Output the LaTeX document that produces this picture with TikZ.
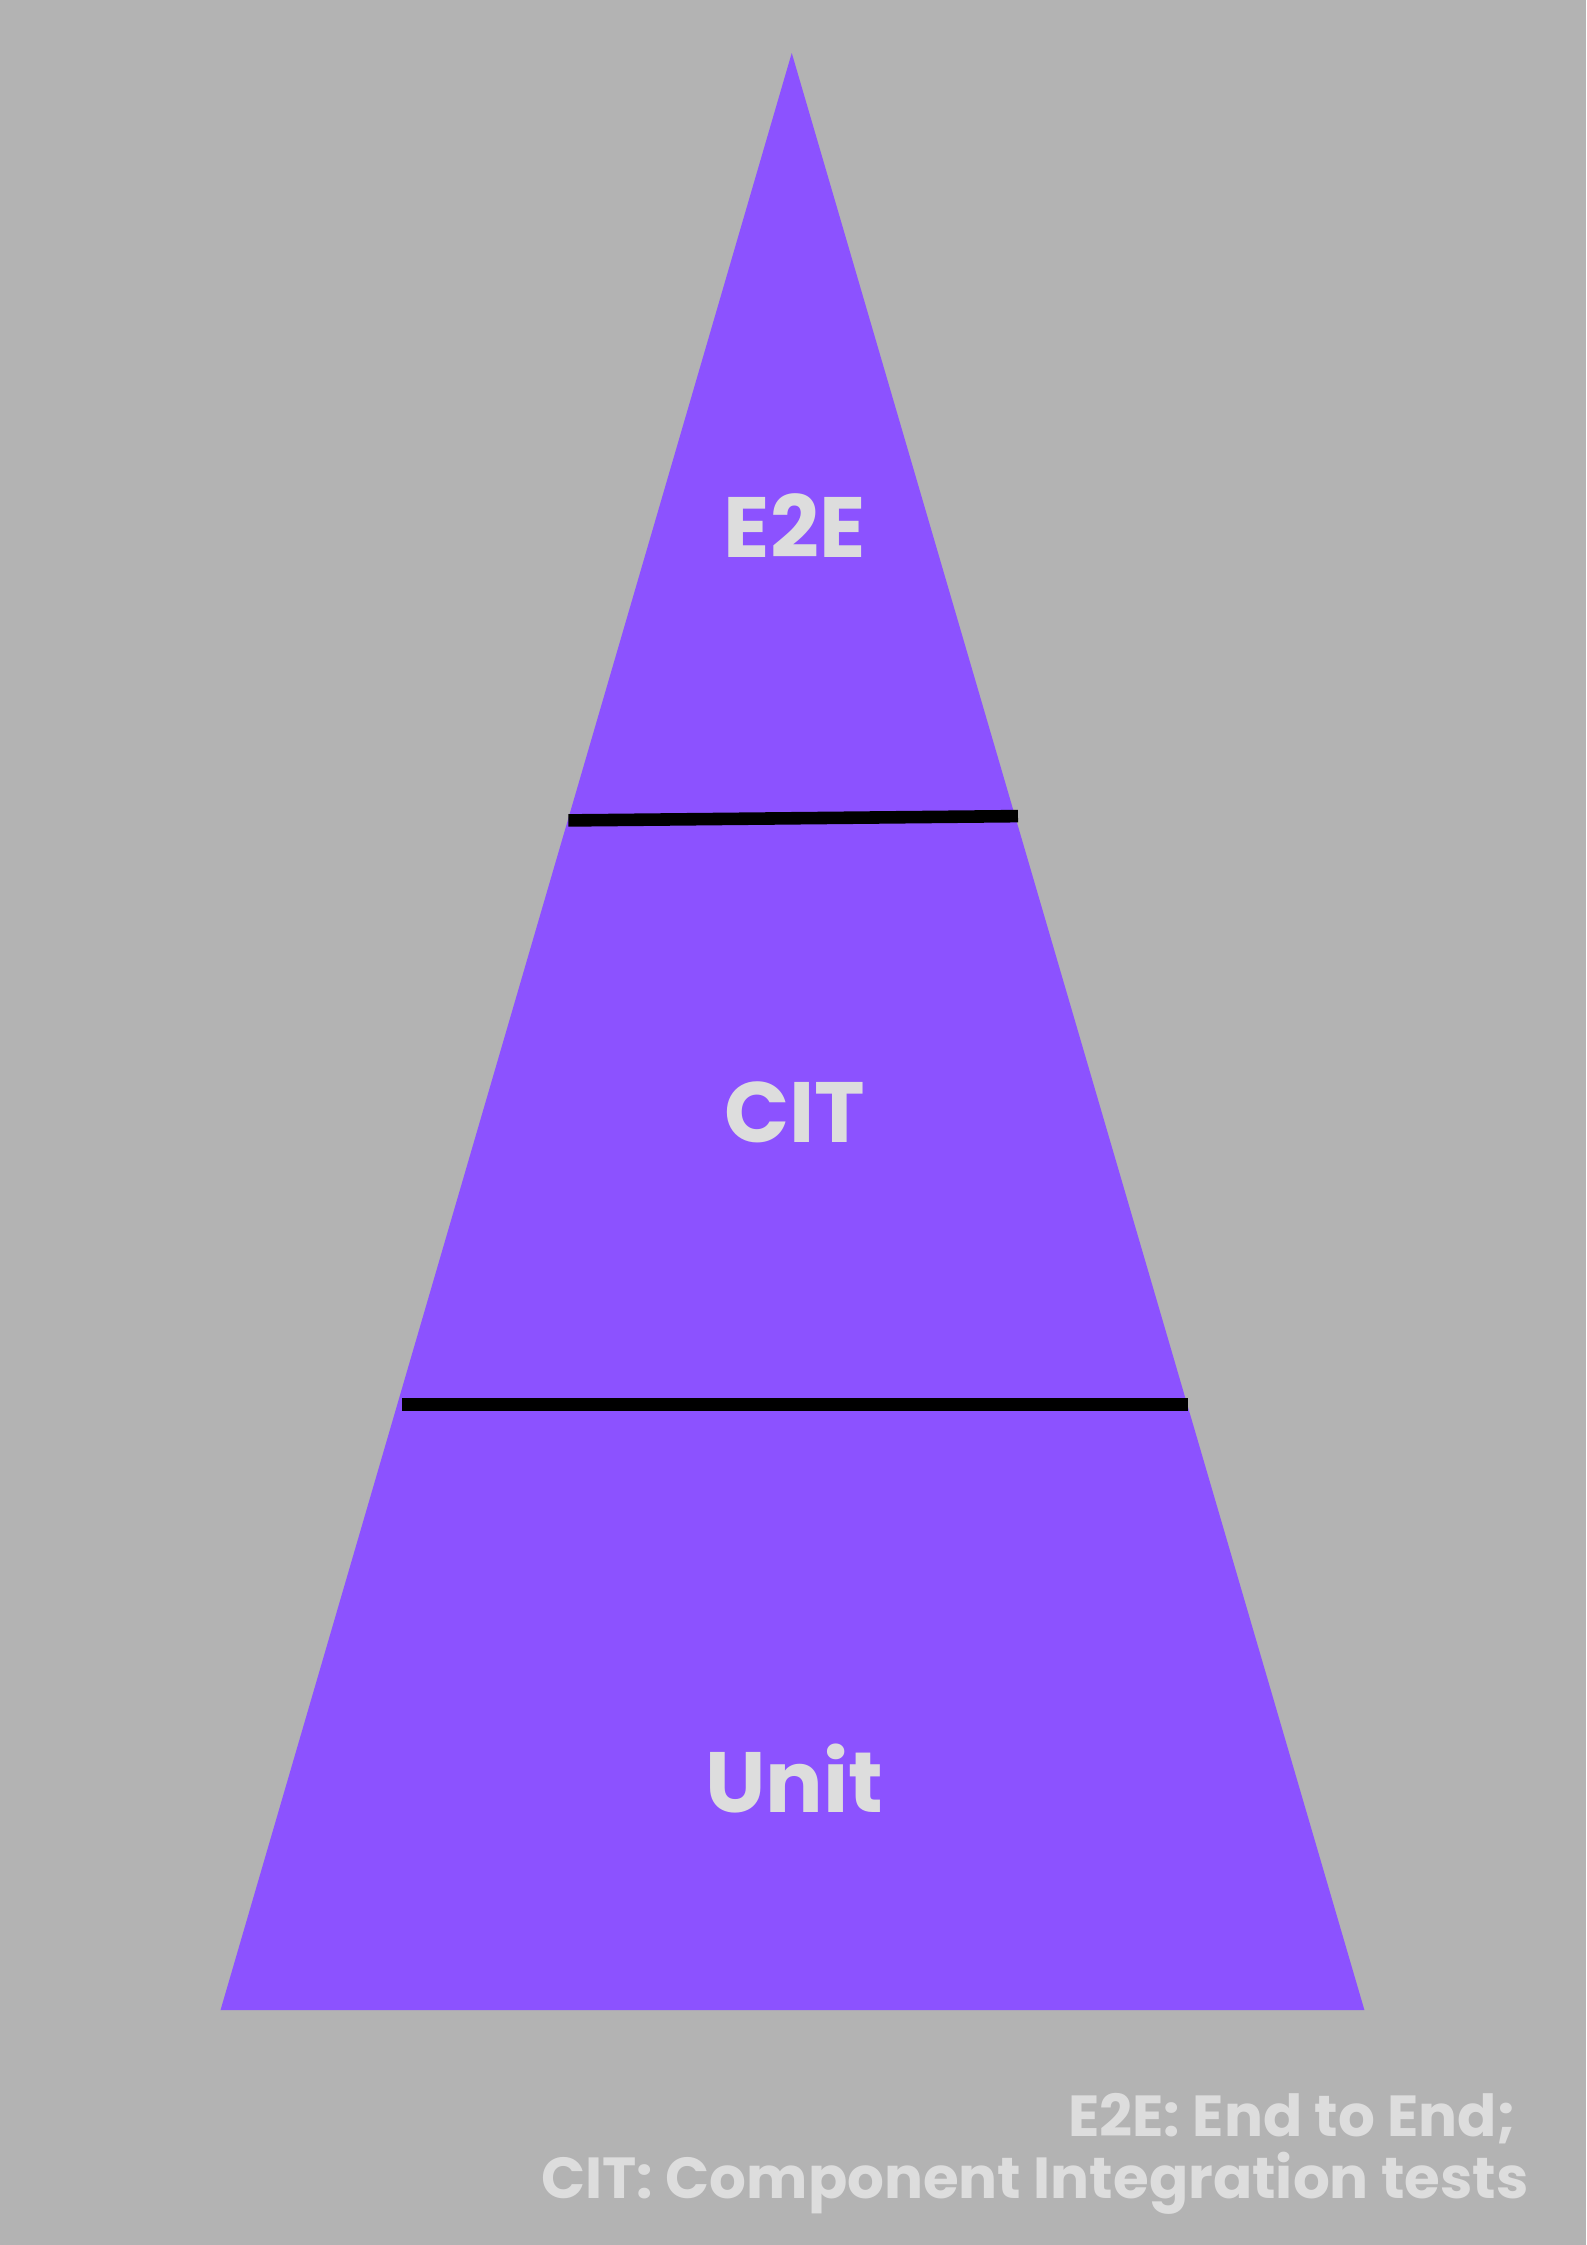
\documentclass[tikz,border=0pt]{standalone}
\usepackage{fontspec}
\setmainfont{Poppins}
\usepackage{xcolor}
\definecolor{bggray}{HTML}{B3B3B3}
\definecolor{pyrpurple}{HTML}{8C52FF}
\definecolor{labelgray}{HTML}{DDDDDD}
\begin{document}
\begin{tikzpicture}[x=0.01cm,y=-0.01cm,
	layer/.style={font=\bfseries\fontsize{17}{20}\selectfont,text=labelgray},
	note/.style={font=\bfseries\fontsize{11.5}{14}\selectfont,text=labelgray,anchor=east}]
	\fill[bggray] (0,0) rectangle (1108,1568);
	\useasboundingbox (0,0) rectangle (1108,1568);
	\fill[pyrpurple] (553,37) -- (953,1404) -- (154,1404) -- cycle;
	\draw[line width=2.5pt] (397,573) -- (711,570);
	\draw[line width=2.5pt] (281,981) -- (830,981);
	
	\node[layer] (e2e) at (555,367) {E2E};
	\node[layer] (cit) at (555,777) {CIT};
	\node[layer] (unit) at (555,1242) {Unit};
	
	\node[note] (n1) at (1072,1480) {E2E: End to End;};
	\node[note] (n2) at (1080,1525) {CIT: Component Integration tests};
\end{tikzpicture}
\end{document}
